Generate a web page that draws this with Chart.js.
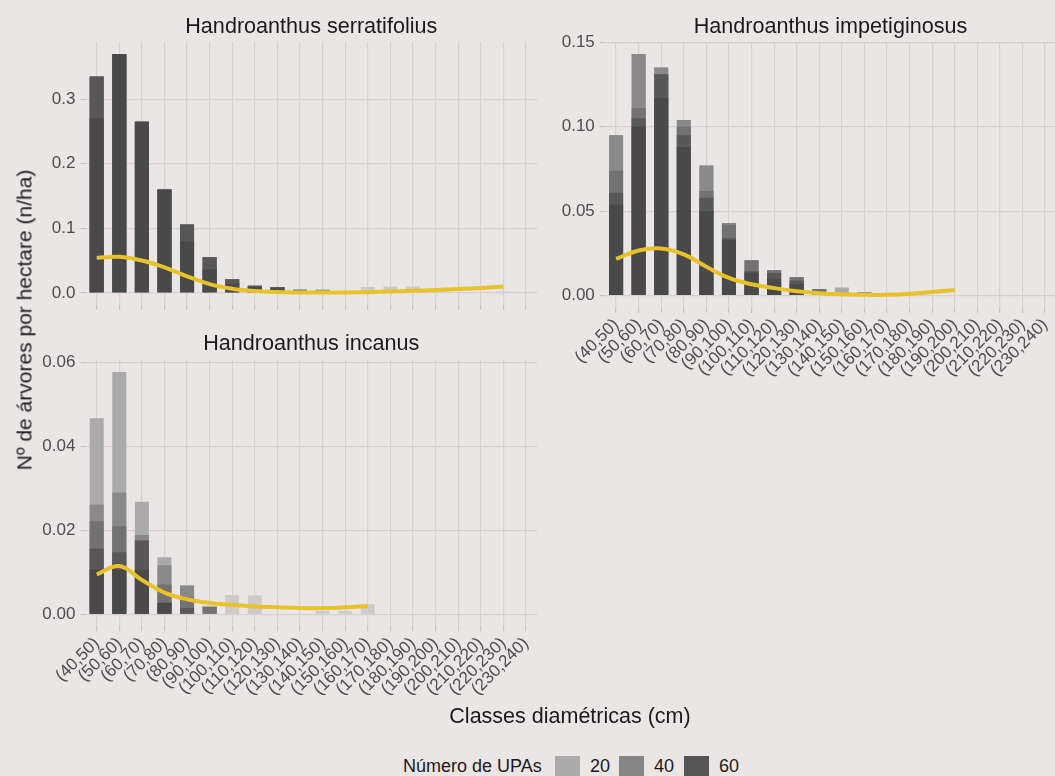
<!DOCTYPE html>
<html>
<head>
<meta charset="utf-8">
<script src="https://cdn.jsdelivr.net/npm/chart.js@4.4.1/dist/chart.umd.min.js"></script>
<style>
  html, body { margin: 0; padding: 0; background: #EBE6E6; overflow: hidden; }
  #fig { position: relative; width: 1055px; height: 776px; overflow: hidden;
         font-family: 'Liberation Sans', Arial, Helvetica, sans-serif; color: #1A1A1A; }
  canvas { position: absolute; display: block; }
  .txt { position: absolute; white-space: nowrap; line-height: 1; }
  .facet { font-size: 21.6px; transform: translate(-50%, -50%); }
  #xTitle { left: 570px; top: 717px; font-size: 21.5px; transform: translate(-50%, -50%); }
  #yTitle { left: 24px; top: 320px; font-size: 21px; transform: translate(-50%, -50%) rotate(-90deg); }
  .sw { position: absolute; top: 756px; width: 25px; height: 20px; }
  .lg { position: absolute; top: 766px; font-size: 18px; transform: translateY(-50%); white-space: nowrap; line-height: 1; }
</style>
</head>
<body>
<div id="fig">
  <canvas id="cSerr" width="545" height="320" style="left:0;top:0"></canvas>
  <canvas id="cImpe" width="515" height="400" style="left:545px;top:0"></canvas>
  <canvas id="cInca" width="545" height="400" style="left:0;top:317.6px"></canvas>

  <div class="txt facet" style="left:311.3px;top:25.6px">Handroanthus serratifolius</div>
  <div class="txt facet" style="left:830.5px;top:25.6px">Handroanthus impetiginosus</div>
  <div class="txt facet" style="left:311.3px;top:343.2px">Handroanthus incanus</div>

  <div class="txt" id="xTitle">Classes diamétricas (cm)</div>
  <div class="txt" id="yTitle">Nº de árvores por hectare (n/ha)</div>

  <div class="lg" style="left:403px">Número de UPAs</div>
  <div class="sw" style="left:555px;background:#ABABAB"></div>
  <div class="lg" style="left:590px">20</div>
  <div class="sw" style="left:619px;background:#858585"></div>
  <div class="lg" style="left:654px">40</div>
  <div class="sw" style="left:684px;background:#555555"></div>
  <div class="lg" style="left:719px">60</div>
</div>

<script>
// Diameter classes (cm)
const diameterClasses = ['(40,50)', '(50,60)', '(60,70)', '(70,80)', '(80,90)', '(90,100)',
  '(100,110)', '(110,120)', '(120,130)', '(130,140)', '(140,150)', '(150,160)', '(160,170)',
  '(170,180)', '(180,190)', '(190,200)', '(200,210)', '(210,220)', '(220,230)', '(230,240)'];

// Handroanthus serratifolius: overlapping UPA bars (n/ha), from the widest coverage to the densest
const serratifoliusDepth1 = [0.335, 0.37, 0.265, 0.16, 0.106, 0.055, 0.021, 0.011, 0.009, 0.005, 0.005, 0, 0, 0, 0, 0, 0, 0, 0, 0];
const serratifoliusDepth2 = [0.335, 0.37, 0.265, 0.16, 0.106, 0.055, 0.021, 0.011, 0.009, 0.005, 0.005, 0, 0, 0, 0, 0, 0, 0, 0, 0];
const serratifoliusDepth3 = [0.335, 0.37, 0.265, 0.16, 0.106, 0.055, 0.021, 0.011, 0.009, 0.005, 0, 0, 0, 0, 0, 0, 0, 0, 0, 0];
const serratifoliusDepth4 = [0.335, 0.37, 0.265, 0.16, 0.106, 0.055, 0.021, 0.011, 0.009, 0, 0, 0, 0, 0, 0, 0, 0, 0, 0, 0];
const serratifoliusDepth5 = [0.27, 0.37, 0.265, 0.16, 0.08, 0.036, 0.0145, 0.009, 0.007, 0, 0, 0, 0, 0, 0, 0, 0, 0, 0, 0];
const serratifoliusSparse = [0, 0, 0, 0, 0, 0, 0, 0, 0, 0, 0, 0, 0.009, 0.01, 0.01, 0, 0, 0, 0.002, 0];
const serratifoliusTrend  = [0.0545, 0.0558, 0.05, 0.0395, 0.0255, 0.0135, 0.0065, 0.0028, 0.0012, 0.0006,
  0.0004, 0.0006, 0.0011, 0.0021, 0.0032, 0.0045, 0.006, 0.0076, 0.0095];
const serratifoliusTicks  = [0, 0.1, 0.2, 0.3];

// Handroanthus impetiginosus
const impetiginosusDepth1 = [0.095, 0.143, 0.135, 0.104, 0.077, 0.043, 0.021, 0.015, 0.011, 0.004, 0.0048, 0.002, 0, 0, 0, 0, 0, 0, 0, 0];
const impetiginosusDepth2 = [0.095, 0.143, 0.135, 0.104, 0.077, 0.043, 0.021, 0.015, 0.011, 0.004, 0, 0.002, 0, 0, 0, 0, 0, 0, 0, 0];
const impetiginosusDepth3 = [0.074, 0.111, 0.131, 0.1, 0.062, 0.042, 0.021, 0.015, 0.011, 0.004, 0, 0, 0, 0, 0, 0, 0, 0, 0, 0];
const impetiginosusDepth4 = [0.061, 0.105, 0.131, 0.095, 0.058, 0.034, 0.0145, 0.0135, 0.009, 0, 0, 0, 0, 0, 0, 0, 0, 0, 0, 0];
const impetiginosusDepth5 = [0.054, 0.1, 0.117, 0.088, 0.05, 0.033, 0.0137, 0.01, 0.007, 0, 0, 0, 0, 0, 0, 0, 0, 0, 0, 0];
const impetiginosusSparse = [0, 0, 0, 0, 0, 0, 0, 0, 0, 0, 0, 0, 0, 0, 0, 0, 0, 0, 0, 0];
const impetiginosusTrend  = [0.0218, 0.0268, 0.028, 0.0245, 0.0172, 0.0105, 0.0068, 0.0045, 0.0027, 0.0015,
  0.0008, 0.0005, 0.0006, 0.0012, 0.0022, 0.0034];
const impetiginosusTicks  = [0, 0.05, 0.1, 0.15];

// Handroanthus incanus
const incanusDepth1 = [0.0467, 0.0577, 0.0268, 0.0136, 0.0069, 0.0018, 0, 0, 0, 0, 0, 0, 0, 0, 0, 0, 0, 0, 0, 0];
const incanusDepth2 = [0.0262, 0.029, 0.0189, 0.0117, 0.0069, 0.0018, 0, 0, 0, 0, 0, 0, 0, 0, 0, 0, 0, 0, 0, 0];
const incanusDepth3 = [0.0222, 0.021, 0.0176, 0.0071, 0.004, 0.0018, 0, 0, 0, 0, 0, 0, 0, 0, 0, 0, 0, 0, 0, 0];
const incanusDepth4 = [0.0157, 0.0148, 0.0176, 0.0028, 0.0015, 0, 0, 0, 0, 0, 0, 0, 0, 0, 0, 0, 0, 0, 0, 0];
const incanusDepth5 = [0.0107, 0.0107, 0.0107, 0.0028, 0, 0, 0, 0, 0, 0, 0, 0, 0, 0, 0, 0, 0, 0, 0, 0];
const incanusSparse = [0, 0, 0, 0, 0, 0, 0.0046, 0.0045, 0, 0, 0.0008, 0.0008, 0.0024, 0, 0, 0, 0, 0, 0, 0];
const incanusTrend  = [0.0095, 0.0115, 0.0082, 0.0052, 0.0036, 0.0027, 0.0023, 0.0019, 0.0017, 0.0015,
  0.0015, 0.0017, 0.002];
const incanusTicks  = [0, 0.02, 0.04, 0.06];

// Styling
const depthShades = ['#AAAAAA', '#898989', '#727272', '#585858', '#494949'];
const sparseShade = '#CFCACA';
const trendColor = '#E8C22A';
const gridColor = '#D6D0D0';
const tickColor = '#C6C0C0';
const labelColor = '#4D4D4D';

Chart.defaults.font.family = "'Liberation Sans', Arial, Helvetica, sans-serif";
Chart.defaults.animation = false;

function drawFacet(canvasId, spec) {
  const all = spec.depths.flat().concat(spec.sparse);
  const top = Math.max(...all);
  const datasets = [{
    type: 'line', data: spec.trend, borderColor: trendColor, borderWidth: 4,
    pointRadius: 0, tension: 0.4, fill: false, order: 0
  }];
  spec.depths.forEach((vals, k) => {
    datasets.push({ type: 'bar', data: vals, backgroundColor: depthShades[k], order: 10 - k });
  });
  datasets.push({ type: 'bar', data: spec.sparse, backgroundColor: sparseShade, order: 20 });

  new Chart(document.getElementById(canvasId), {
    type: 'bar',
    data: { labels: diameterClasses, datasets },
    options: {
      responsive: false,
      devicePixelRatio: 1,
      layout: { padding: { left: 0, right: spec.padRight, top: 42, bottom: 0 } },
      datasets: { bar: { grouped: false, barPercentage: 0.62, categoryPercentage: 1, borderWidth: 0 } },
      plugins: {
        legend: { display: false },
        tooltip: { enabled: false },
        title: { display: false }
      },
      scales: {
        x: {
          type: 'category', offset: true,
          grid: { offset: false, color: gridColor, tickColor: tickColor, tickLength: 5, lineWidth: 1.2 },
          border: { display: false },
          ticks: {
            display: spec.showLabels, autoSkip: false, minRotation: 45, maxRotation: 45,
            color: labelColor, font: { size: 17 }, padding: 2
          },
          afterFit: s => { s.height = spec.xHeight; s.paddingLeft = 0; s.paddingRight = 0; }
        },
        y: {
          type: 'linear', min: -0.05 * top, max: 1.05 * top,
          afterBuildTicks: s => { s.ticks = spec.ticks.map(v => ({ value: v })); },
          grid: { color: gridColor, tickColor: tickColor, tickLength: 5, lineWidth: 1.2 },
          border: { display: false },
          ticks: { color: labelColor, font: { size: 17 }, padding: 5,
                   callback: v => v.toFixed(spec.decimals) },
          afterFit: s => { s.width = spec.yWidth; }
        }
      }
    }
  });
}

drawFacet('cSerr', {
  depths: [serratifoliusDepth1, serratifoliusDepth2, serratifoliusDepth3, serratifoliusDepth4, serratifoliusDepth5],
  sparse: serratifoliusSparse, trend: serratifoliusTrend, ticks: serratifoliusTicks, decimals: 1,
  showLabels: false, yWidth: 85.4, padRight: 7.8, xHeight: 12.2
});

drawFacet('cImpe', {
  depths: [impetiginosusDepth1, impetiginosusDepth2, impetiginosusDepth3, impetiginosusDepth4, impetiginosusDepth5],
  sparse: impetiginosusSparse, trend: impetiginosusTrend, ticks: impetiginosusTicks, decimals: 2,
  showLabels: true, yWidth: 59.8, padRight: 3.7, xHeight: 92.2
});

drawFacet('cInca', {
  depths: [incanusDepth1, incanusDepth2, incanusDepth3, incanusDepth4, incanusDepth5],
  sparse: incanusSparse, trend: incanusTrend, ticks: incanusTicks, decimals: 2,
  showLabels: true, yWidth: 85.4, padRight: 7.8, xHeight: 91.5
});
</script>
</body>
</html>
